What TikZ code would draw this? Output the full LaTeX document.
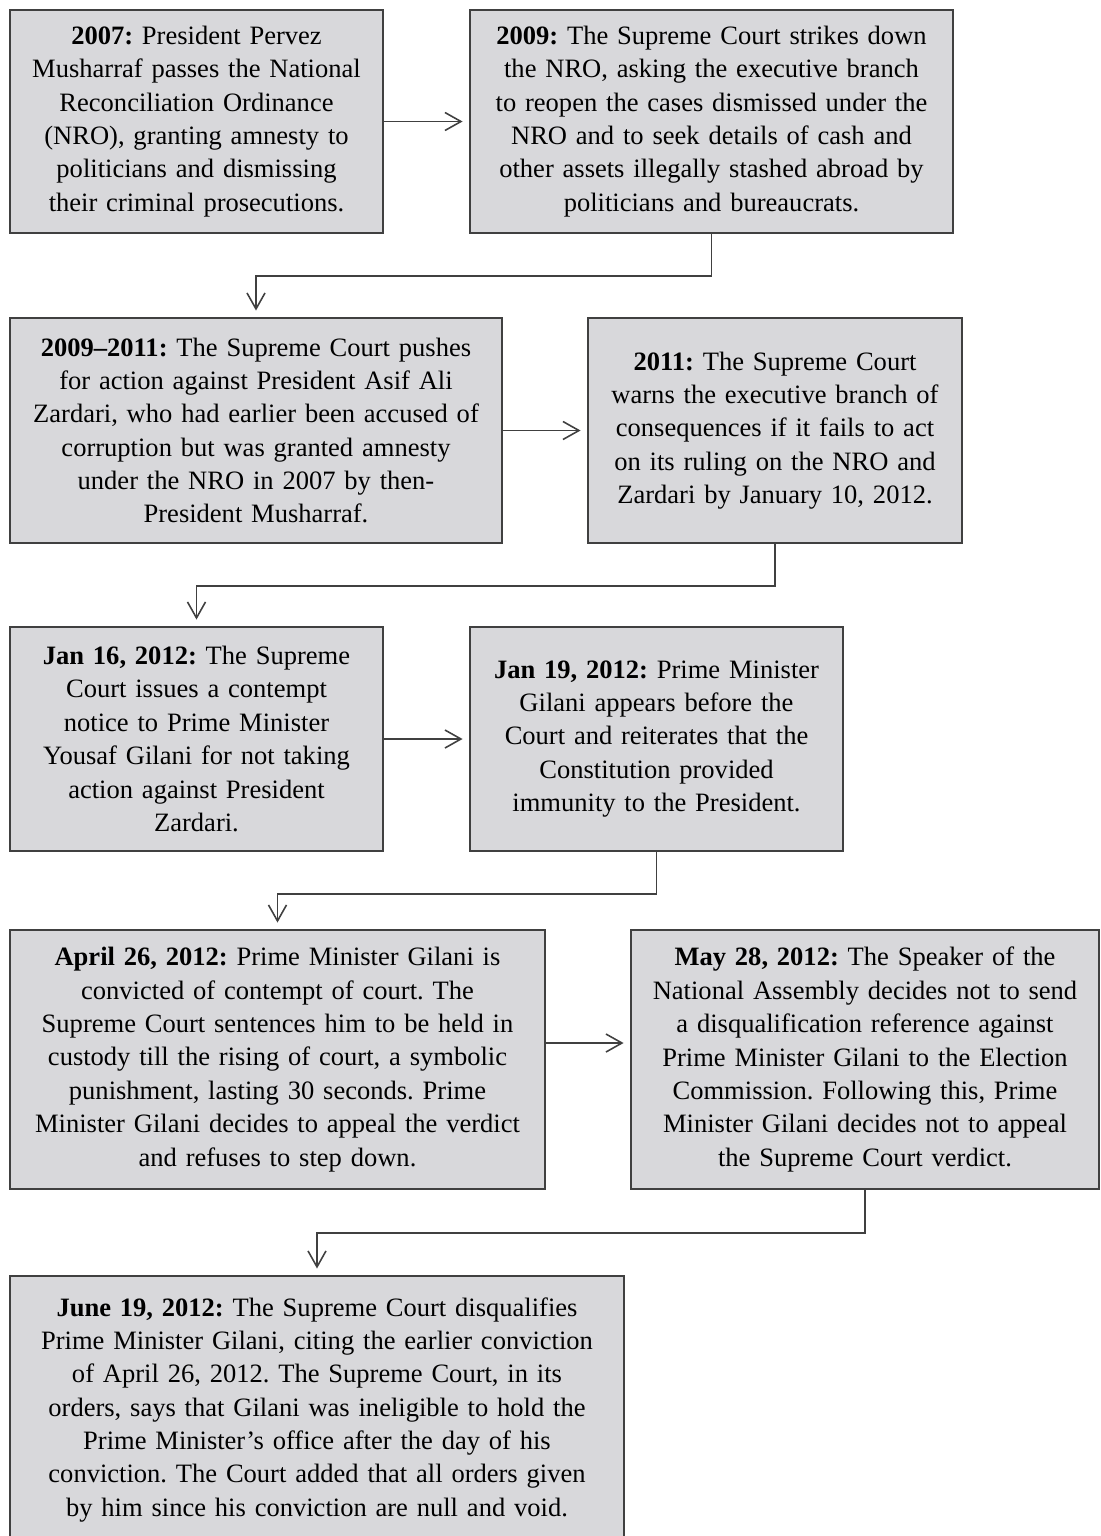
\documentclass[tikz,border=0pt]{standalone}
\usepackage{fontspec}
\setmainfont{Liberation Serif}
\usetikzlibrary{arrows.meta,calc}
\frenchspacing

\definecolor{boxfill}{RGB}{216,216,219}
\definecolor{boxline}{RGB}{64,64,64}

\begin{document}
\begin{tikzpicture}[x=0.02cm, y=-0.02cm,
    event/.style={draw=boxline, fill=boxfill, line width=1.1pt, inner sep=0pt,
        align=center, font=\fontsize{15.1}{19}\selectfont},
    arr/.style={draw=boxline, line width=1pt, shorten >=1.3mm,
        -{Straight Barb[length=3.2mm,width=3.6mm,line width=0.9pt]}}]

    % Page frame
    \useasboundingbox (0,0) rectangle (1101,1536);

    % Row 1
    \node[event, text width=7.46cm, minimum height=4.46cm] (b1) at (196.5,121.5)
        {\textbf{2007:} President Pervez\\ Musharraf passes the National\\ Reconciliation Ordinance\\
         (NRO), granting amnesty to\\ politicians and dismissing\\ their criminal prosecutions.};
    \node[event, text width=9.66cm, minimum height=4.46cm] (b2) at (711.5,121.5)
        {\textbf{2009:} The Supreme Court strikes down\\ the NRO, asking the executive branch\\
         to reopen the cases dismissed under the\\ NRO and to seek details of cash and\\
         other assets illegally stashed abroad by\\ politicians and bureaucrats.};

    % Row 2
    \node[event, text width=9.84cm, minimum height=4.5cm] (b3) at (256,430.5)
        {\textbf{2009–2011:} The Supreme Court pushes\\ for action against President Asif Ali\\
         Zardari, who had earlier been accused of\\ corruption but was granted amnesty\\
         under the NRO in 2007 by then-\\ President Musharraf.};
    \node[event, text width=7.48cm, minimum height=4.5cm] (b4) at (775,430.5)
        {\textbf{2011:} The Supreme Court\\ warns the executive branch of\\ consequences if it fails to act\\
         on its ruling on the NRO and\\ Zardari by January 10, 2012.};

    % Row 3
    \node[event, text width=7.46cm, minimum height=4.48cm] (b5) at (196.5,739)
        {\textbf{Jan 16, 2012:} The Supreme\\ Court issues a contempt\\ notice to Prime Minister\\
         Yousaf Gilani for not taking\\ action against President\\ Zardari.};
    \node[event, text width=7.46cm, minimum height=4.48cm] (b6) at (656.5,739)
        {\textbf{Jan 19, 2012:} Prime Minister\\ Gilani appears before the\\ Court and reiterates that the\\
         Constitution provided\\ immunity to the President.};

    % Row 4
    \node[event, text width=10.7cm, minimum height=5.18cm] (b7) at (277.5,1059.5)
        {\textbf{April 26, 2012:} Prime Minister Gilani is\\ convicted of contempt of court. The\\
         Supreme Court sentences him to be held in\\ custody till the rising of court, a symbolic\\
         punishment, lasting 30 seconds. Prime\\ Minister Gilani decides to appeal the verdict\\
         and refuses to step down.};
    \node[event, text width=9.36cm, minimum height=5.18cm] (b8) at (865,1059.5)
        {\textbf{May 28, 2012:} The Speaker of the\\ National Assembly decides not to send\\
         a disqualification reference against\\ Prime Minister Gilani to the Election\\
         Commission. Following this, Prime\\ Minister Gilani decides not to appeal\\
         the Supreme Court verdict.};

    % Row 5 (runs off the page at the bottom)
    \node[event, text width=12.28cm, minimum height=5.35cm, anchor=north] (b9) at (317,1275)
        {\textbf{June 19, 2012:} The Supreme Court disqualifies\\ Prime Minister Gilani, citing the earlier conviction\\
         of April 26, 2012. The Supreme Court, in its\\ orders, says that Gilani was ineligible to hold the\\
         Prime Minister's office after the day of his\\ conviction. The Court added that all orders given\\
         by him since his conviction are null and void.};

    % Arrows across
    \draw[arr] (b1) -- (b2);
    \draw[arr] (b3) -- (b4);
    \draw[arr] (b5) -- (b6);
    \draw[arr] ([yshift=0.33cm]b7.east) -- ([yshift=0.33cm]b8.west);

    % Arrows down to the next row
    \draw[arr] (b2.south) -- ++(0,42) -| (b3.north);
    \draw[arr] (b4.south) -- ++(0,42) -| (b5.north);
    \draw[arr] (b6.south) -- ++(0,42) -| (b7.north);
    \draw[arr] (b8.south) -- ++(0,43) -| (b9.north);
\end{tikzpicture}
\end{document}
